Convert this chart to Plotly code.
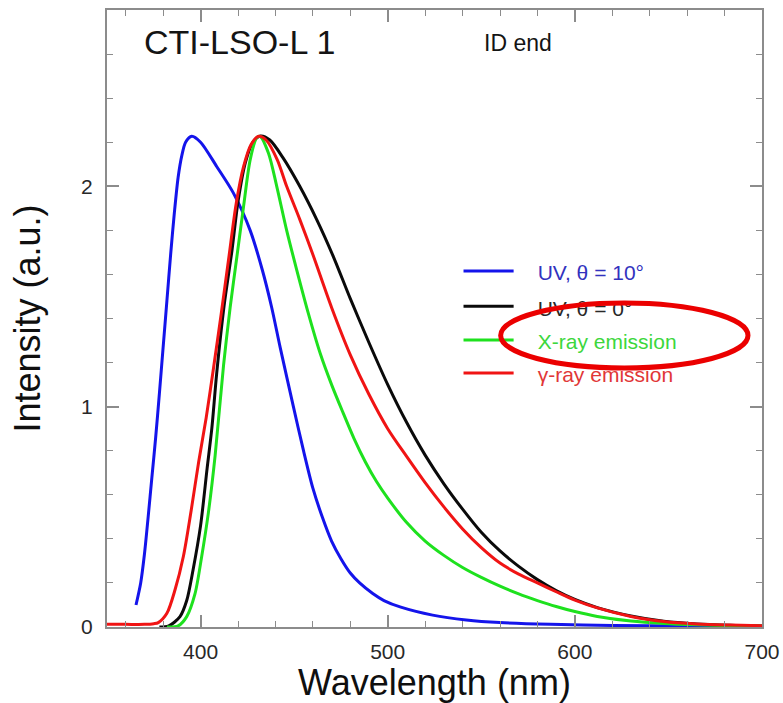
import plotly.graph_objects as go

# ---------------- data ----------------
uv10_wl = [365.5, 368, 370, 372, 374, 376, 378, 380, 382, 384, 386, 388, 390, 392,
           395.3, 400, 408.6, 417.5, 426.5, 433, 438, 442.5, 449.6, 455, 460, 465,
           470, 475, 480, 485, 492, 498, 507, 524, 542, 560, 587, 620, 660, 700]
uv10_int = [0.10, 0.20, 0.33, 0.50, 0.68, 0.86, 1.06, 1.27, 1.48, 1.69, 1.88, 2.04,
            2.14, 2.20, 2.227, 2.20, 2.09, 1.97, 1.80, 1.62, 1.45, 1.27, 1.00, 0.80,
            0.63, 0.50, 0.39, 0.31, 0.245, 0.20, 0.152, 0.120, 0.090, 0.054, 0.032,
            0.020, 0.012, 0.007, 0.004, 0.003]

uv0_wl = [378, 383, 389, 392.6, 396, 400, 403.5, 406, 408.6, 412.6, 416.8, 420, 424,
          428, 432, 437, 444, 453, 462, 471, 480, 490, 500, 510, 520, 530, 540, 550,
          560, 570, 580, 590, 600, 612, 630, 647.5, 665, 683, 700]
uv0_int = [0.0, 0.005, 0.047, 0.12, 0.26, 0.46, 0.72, 0.90, 1.15, 1.46, 1.71, 1.93,
           2.11, 2.20, 2.228, 2.21, 2.13, 2.00, 1.85, 1.68, 1.49, 1.29, 1.10, 0.93,
           0.78, 0.65, 0.535, 0.43, 0.345, 0.275, 0.215, 0.165, 0.125, 0.088, 0.050,
           0.026, 0.014, 0.008, 0.005]

xray_wl = [382, 388, 392.6, 397, 400.6, 404.2, 407.8, 412.3, 415.8, 419.4, 423, 426.5,
           430, 431.8, 436.3, 440.7, 446, 451.4, 457.7, 464, 470, 476, 482, 488, 494,
           500, 510, 520, 530, 540, 550, 560, 570, 580, 590, 600, 612, 630, 647.5,
           665, 683, 700]
xray_int = [0.0, 0.005, 0.047, 0.15, 0.32, 0.52, 0.78, 1.19, 1.45, 1.68, 1.91, 2.12,
            2.22, 2.226, 2.15, 2.00, 1.80, 1.62, 1.42, 1.24, 1.10, 0.975, 0.855, 0.75,
            0.66, 0.585, 0.475, 0.39, 0.325, 0.27, 0.225, 0.185, 0.15, 0.12, 0.093,
            0.070, 0.048, 0.027, 0.016, 0.010, 0.006, 0.004]

gamma_wl = [350, 360, 370, 375, 377.4, 382, 386.4, 390.8, 395, 399, 403, 407, 411, 415,
            419, 423, 427, 431, 435, 441, 446, 453, 460, 470, 480, 490, 500, 510, 520,
            530, 540, 550, 560, 570, 580, 590, 600, 612, 630, 647.5, 665, 683, 700]
gamma_int = [0.012, 0.012, 0.012, 0.015, 0.02, 0.062, 0.17, 0.32, 0.53, 0.75, 0.95,
             1.18, 1.42, 1.67, 1.92, 2.09, 2.19, 2.227, 2.21, 2.12, 2.00, 1.85, 1.69,
             1.45, 1.235, 1.055, 0.90, 0.775, 0.655, 0.545, 0.445, 0.36, 0.29, 0.24,
             0.20, 0.16, 0.122, 0.087, 0.048, 0.025, 0.014, 0.009, 0.006]

series_names = ["UV, \u03b8 = 10\u00b0", "UV, \u03b8 = 0\u00b0", "X-ray emission", "\u03b3-ray emission"]
series_colors = ["rgb(20,20,235)", "rgb(10,10,10)", "rgb(30,225,30)", "rgb(240,20,20)"]
label_colors = ["rgb(50,50,190)", "rgb(40,40,40)", "rgb(60,215,60)", "rgb(225,55,55)"]

x_ticks = [400, 500, 600, 700]
y_ticks = [0, 1, 2]

FONT = "Liberation Sans, Arial, Helvetica, sans-serif"
AX = "rgb(140,140,140)"

fig = go.Figure()
for wl, it, name, col in zip([uv10_wl, uv0_wl, xray_wl, gamma_wl],
                             [uv10_int, uv0_int, xray_int, gamma_int],
                             series_names, series_colors):
    fig.add_trace(go.Scatter(x=wl, y=it, mode="lines", name=name,
                             line=dict(color=col, width=3, shape="spline", smoothing=0.8),
                             showlegend=False))

# ---- custom legend (lines + labels), drawn as shapes so the ellipse can overlap ----
legend_y = [0.5770, 0.5200, 0.4652, 0.4117]
shapes = []
for yy, col in zip(legend_y, series_colors):
    shapes.append(dict(type="line", xref="paper", yref="paper",
                       x0=0.5443, x1=0.6208, y0=yy, y1=yy,
                       line=dict(color=col, width=3)))
for yy, name, lc in zip(legend_y, series_names, label_colors):
    shapes.append(dict(type="rect", xref="paper", yref="paper",
                       x0=0.6530, x1=0.99, y0=yy - 0.02, y1=yy + 0.02,
                       line=dict(width=0), fillcolor="rgba(0,0,0,0)",
                       label=dict(text=name, textposition="middle left", padding=0,
                                  font=dict(family=FONT, size=21, color=lc))))
# red highlight ellipse
shapes.append(dict(type="circle", xref="paper", yref="paper",
                   x0=0.601, x1=0.9786, y0=0.4198, y1=0.5251,
                   line=dict(color="rgb(235,0,0)", width=5)))

annotations = [
    dict(text="CTI-LSO-L 1", xref="paper", yref="paper", x=0.0535, y=0.9480,
         xanchor="left", yanchor="middle", showarrow=False,
         font=dict(family=FONT, size=34, color="rgb(20,20,20)")),
    dict(text="ID end", xref="paper", yref="paper", x=0.572, y=0.947,
         xanchor="left", yanchor="middle", showarrow=False,
         font=dict(family=FONT, size=23, color="rgb(20,20,20)")),
]

fig.update_layout(
    width=783, height=703,
    margin=dict(l=107, r=21, t=10, b=76, autoexpand=False),
    paper_bgcolor="white", plot_bgcolor="white",
    shapes=shapes, annotations=annotations,
    font=dict(family=FONT, color="rgb(30,30,30)"),
)
fig.update_xaxes(
    range=[350, 700], tickvals=x_ticks, ticktext=[str(v) for v in x_ticks],
    ticks="inside", ticklen=12, tickwidth=1.5, tickcolor=AX,
    minor=dict(dtick=20, tick0=0, ticks="inside", ticklen=6, tickwidth=1, tickcolor=AX),
    showline=True, linecolor=AX, linewidth=2, mirror="ticks",
    showgrid=False, zeroline=False,
    tickfont=dict(family=FONT, size=21, color="rgb(40,40,40)"),
    ticklabelstandoff=5,
    title=dict(text="Wavelength (nm)", font=dict(family=FONT, size=36, color="rgb(15,15,15)"),
               standoff=4),
)
fig.update_yaxes(
    range=[0, 2.8], tickvals=y_ticks, ticktext=[str(v) for v in y_ticks],
    ticks="inside", ticklen=12, tickwidth=1.5, tickcolor=AX,
    minor=dict(dtick=0.2, tick0=0, ticks="inside", ticklen=6, tickwidth=1, tickcolor=AX),
    showline=True, linecolor=AX, linewidth=2, mirror="ticks",
    showgrid=False, zeroline=False,
    tickfont=dict(family=FONT, size=21, color="rgb(40,40,40)"),
    ticklabelstandoff=8,
    title=dict(text="Intensity (a.u.)", font=dict(family=FONT, size=36, color="rgb(15,15,15)"),
               standoff=30),
)

fig.write_html("out.html")
